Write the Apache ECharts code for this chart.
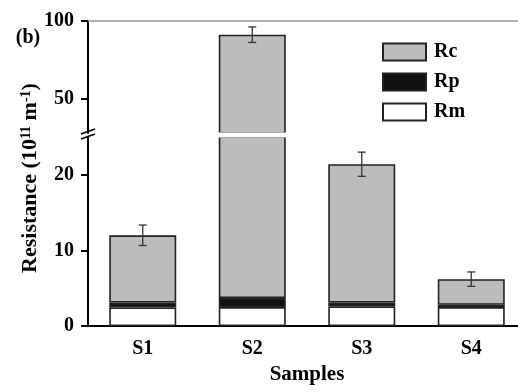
<!DOCTYPE html>
<html lang="en">
  <head>
    <meta charset="UTF-8" />
    <title>resistance</title>
    <script src="https://cdn.jsdelivr.net/npm/echarts@6/dist/echarts.min.js"></script>
    <style>
      * { margin: 0; padding: 0; }
      html, body { background: #fff; }
    </style>
  </head>
  <body>
    <div id="charts" style="width: 518px; height: 392px"></div>
    <script>
      var samples = ["S1", "S2", "S3", "S4"];
      var rmData = [2.45, 2.5, 2.6, 2.5];
      var rpData = [0.65, 1.2, 0.5, 0.3];
      var rcData = [8.9, 87.5, 18.3, 3.4];
      var errData = [1.35, 5.0, 1.6, 0.95];
      var upperTicks = [50, 100];
      var upperMinor = [75];
      var lowerTicks = [0, 10, 20];
      var lowerMinor = [5, 15, 25];

      var font = "'Liberation Serif', 'Times New Roman', serif";
      var lowMax = 25, highMin = 28;

      // error bars sit on the total of the stack
      var lowErr = [], highErr = [];
      samples.forEach(function (s, i) {
        var total = rmData[i] + rpData[i] + rcData[i];
        var item = [i, total - errData[i], total + errData[i]];
        if (total + errData[i] <= lowMax) lowErr.push(item);
        else highErr.push(item);
      });

      function errorItem(params, api) {
        var x = api.value(0);
        var a = api.coord([x, api.value(2)]);
        var b = api.coord([x, api.value(1)]);
        var w = 4;
        var st = { stroke: "#333", lineWidth: 1.3 };
        return {
          type: "group",
          children: [
            { type: "line", shape: { x1: a[0], y1: a[1], x2: b[0], y2: b[1] }, style: st },
            { type: "line", shape: { x1: a[0] - w, y1: a[1], x2: a[0] + w, y2: a[1] }, style: st },
            { type: "line", shape: { x1: b[0] - w, y1: b[1], x2: b[0] + w, y2: b[1] }, style: st },
          ],
        };
      }

      var barStyle = { borderColor: "#222", borderWidth: 1.6 };
      var colors = { Rm: "#ffffff", Rp: "#111111", Rc: "#bcbcbc" };
      var parts = [["Rm", rmData], ["Rp", rpData], ["Rc", rcData]];

      var series = [];
      [0, 1].forEach(function (g) {
        parts.forEach(function (p) {
          series.push({
            name: p[0],
            type: "bar",
            stack: g === 0 ? "high" : "low",
            xAxisIndex: g,
            yAxisIndex: g === 0 ? 0 : 2,
            barWidth: 67,
            data: p[1],
            itemStyle: Object.assign({ color: colors[p[0]] }, barStyle),
          });
        });
      });
      series.push({
        type: "custom",
        xAxisIndex: 0,
        yAxisIndex: 0,
        renderItem: errorItem,
        encode: { x: 0, y: [1, 2] },
        data: highErr,
        z: 5,
      });
      series.push({
        type: "custom",
        xAxisIndex: 1,
        yAxisIndex: 2,
        renderItem: errorItem,
        encode: { x: 0, y: [1, 2] },
        data: lowErr,
        z: 5,
      });

      var labelStyle = { color: "#000", fontFamily: font, fontWeight: "bold", fontSize: 20 };
      var blackLine = { color: "#000", width: 2 };

      function minorAxis(grid, min, max, vals) {
        return {
          type: "value",
          gridIndex: grid,
          min: min,
          max: max,
          axisLine: { show: false },
          axisLabel: { show: false },
          splitLine: { show: false },
          axisTick: { show: true, length: 3, customValues: vals, lineStyle: { color: "#000", width: 1.5 } },
        };
      }

      var myEcharts = echarts.init(document.getElementById("charts"));
      myEcharts.setOption({
        animation: false,
        textStyle: { fontFamily: font },
        grid: [
          { left: 88, top: 21, right: -8, height: 112, outerBoundsMode: "none" },
          { left: 88, top: 137, right: -8, bottom: 66, outerBoundsMode: "none" },
        ],
        legend: {
          data: ["Rc", "Rp", "Rm"],
          orient: "vertical",
          left: 382,
          top: 42,
          padding: 0,
          icon: "rect",
          itemWidth: 43,
          itemHeight: 17,
          itemGap: 10,
          textStyle: { color: "#000", fontFamily: font, fontWeight: "bold", fontSize: 20, padding: [0, 0, 0, 3] },
        },
        xAxis: [
          {
            type: "category",
            gridIndex: 0,
            data: samples,
            position: "top",
            axisLine: { lineStyle: { color: "#999", width: 1.5 } },
            axisTick: { show: false },
            axisLabel: { show: false },
          },
          {
            type: "category",
            gridIndex: 1,
            data: samples,
            name: "Samples",
            nameLocation: "middle",
            nameGap: 38,
            nameTextStyle: { color: "#000", fontFamily: font, fontWeight: "bold", fontSize: 21 },
            axisLine: { lineStyle: blackLine },
            axisTick: { alignWithLabel: true, length: 6, lineStyle: blackLine },
            axisLabel: Object.assign({ margin: 13 }, labelStyle),
          },
        ],
        yAxis: [
          {
            type: "value",
            gridIndex: 0,
            min: highMin,
            max: 100,
            axisLine: { show: true, lineStyle: blackLine },
            axisTick: { show: true, length: 7, customValues: upperTicks, lineStyle: blackLine },
            axisLabel: Object.assign({ margin: 14, customValues: upperTicks }, labelStyle),
            splitLine: { show: false },
          },
          minorAxis(0, highMin, 100, upperMinor),
          {
            type: "value",
            gridIndex: 1,
            min: 0,
            max: lowMax,
            axisLine: { show: true, lineStyle: blackLine },
            axisTick: { show: true, length: 7, customValues: lowerTicks, lineStyle: blackLine },
            axisLabel: Object.assign({ margin: 14, customValues: lowerTicks }, labelStyle),
            splitLine: { show: false },
          },
          minorAxis(1, 0, lowMax, lowerMinor),
        ],
        graphic: [
          {
            type: "rect",
            z: 100,
            shape: { x: 89, y: 132.5, width: 440, height: 5 },
            style: { fill: "#fff" },
          },
          {
            type: "line",
            z: 101,
            shape: { x1: 81, y1: 134, x2: 95, y2: 129 },
            style: { stroke: "#000", lineWidth: 1.8 },
          },
          {
            type: "line",
            z: 101,
            shape: { x1: 81, y1: 139, x2: 95, y2: 134 },
            style: { stroke: "#000", lineWidth: 1.8 },
          },
          {
            type: "text",
            x: 30,
            y: 178,
            rotation: Math.PI / 2,
            style: {
              text: "Resistance (10{sup|11} m{sup|-1})",
              fill: "#000",
              font: "bold 22px " + font,
              align: "center",
              verticalAlign: "middle",
              rich: { sup: { fontSize: 14, fontWeight: "bold", fontFamily: font, verticalAlign: "top" } },
            },
          },
          {
            type: "text",
            x: 28,
            y: 38,
            style: {
              text: "(b)",
              fill: "#000",
              font: "bold 20px " + font,
              align: "center",
              verticalAlign: "middle",
            },
          },
        ],
        series: series,
      });
    </script>
  </body>
</html>
